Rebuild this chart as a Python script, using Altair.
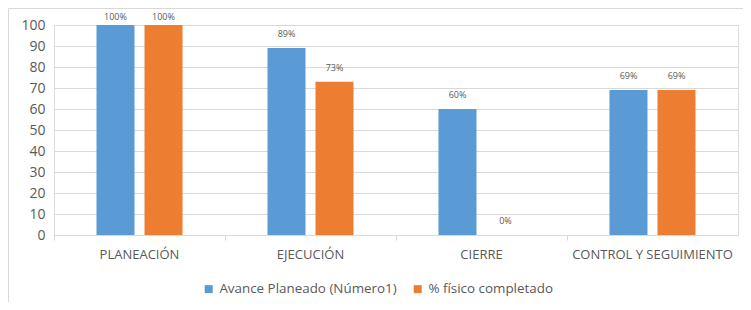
import altair as alt
import pandas as pd

categories = ["PLANEACIÓN", "EJECUCIÓN", "CIERRE", "CONTROL Y SEGUIMIENTO"]
series_names = ["Avance Planeado (Número1)", "% físico completado"]
avance_planeado = [100, 89, 60, 69]
fisico_completado = [100, 73, 0, 69]
colors = ["#5B9BD5", "#ED7D31"]

rows = []
for cat, a, f in zip(categories, avance_planeado, fisico_completado):
    rows.append({"cat": cat, "serie": series_names[0], "valor": a, "label": f"{a}%"})
    rows.append({"cat": cat, "serie": series_names[1], "valor": f, "label": f"{f}%"})
df = pd.DataFrame(rows)

FONT = "Open Sans"
GRAY = "#595959"

x = alt.X("cat:N", sort=categories, title=None,
          scale=alt.Scale(paddingInner=0, paddingOuter=0),
          axis=alt.Axis(labelAngle=0, labelFontSize=13, labelColor=GRAY, labelFont=FONT,
                        bandPosition=0, tickSize=5, tickColor="#D9D9D9",
                        domainColor="#D9D9D9", labelPadding=8, grid=False))
xo = alt.XOffset("serie:N", sort=series_names,
                 scale=alt.Scale(paddingInner=0.2083, paddingOuter=0.885))
y_scale = alt.Scale(domain=[0, 100], nice=False)
y_axis = alt.Axis(values=list(range(0, 101, 10)), labelFontSize=14, labelColor=GRAY,
                  labelFont=FONT, domain=False, ticks=False, labelPadding=9,
                  labelOverlap=False, gridColor="#D9D9D9", gridWidth=1)
y = alt.Y("valor:Q", title=None, scale=y_scale, axis=y_axis)

base = alt.Chart(df)

bars = base.mark_bar().encode(
    x=x, xOffset=xo, y=y,
    color=alt.Color("serie:N", sort=series_names,
                    scale=alt.Scale(domain=series_names, range=colors),
                    legend=alt.Legend(title=None, orient="none", direction="horizontal",
                                      legendX=148, legendY=257, symbolType="square",
                                      symbolSize=64, symbolStrokeWidth=0, labelLimit=0,
                                      labelFontSize=13.4, labelColor=GRAY, labelFont=FONT,
                                      columnPadding=14, symbolOffset=0)),
)

# Excel keeps the top label inside the chart: clamp label anchor just below the top
labels = base.transform_calculate(
    ly="min(datum.valor, 97)"
).mark_text(dy=-14, baseline="middle", fontSize=9, color=GRAY, font=FONT).encode(
    x=x, xOffset=xo, y=alt.Y("ly:Q", title=None, scale=y_scale, axis=y_axis), text="label:N"
)

one = pd.DataFrame({"a": [0]})
frame_top = alt.Chart(one).mark_rule(color="#D9D9D9", strokeWidth=1).encode(
    x=alt.value(-45.5), x2=alt.value(700), y=alt.value(-16.5))
frame_left = alt.Chart(one).mark_rule(color="#D9D9D9", strokeWidth=1).encode(
    x=alt.value(-45.5), y=alt.value(-16.5), y2=alt.value(290))

chart = alt.layer(bars, labels, frame_top, frame_left).properties(
    width=684, height=210,
    autosize=alt.AutoSizeParams(type="none"),
    padding={"left": 46, "top": 17, "right": 5, "bottom": 67},
).configure_view(stroke=None).configure(background="white")

chart.save("out.html", embed_options={"renderer": "svg", "actions": False})
